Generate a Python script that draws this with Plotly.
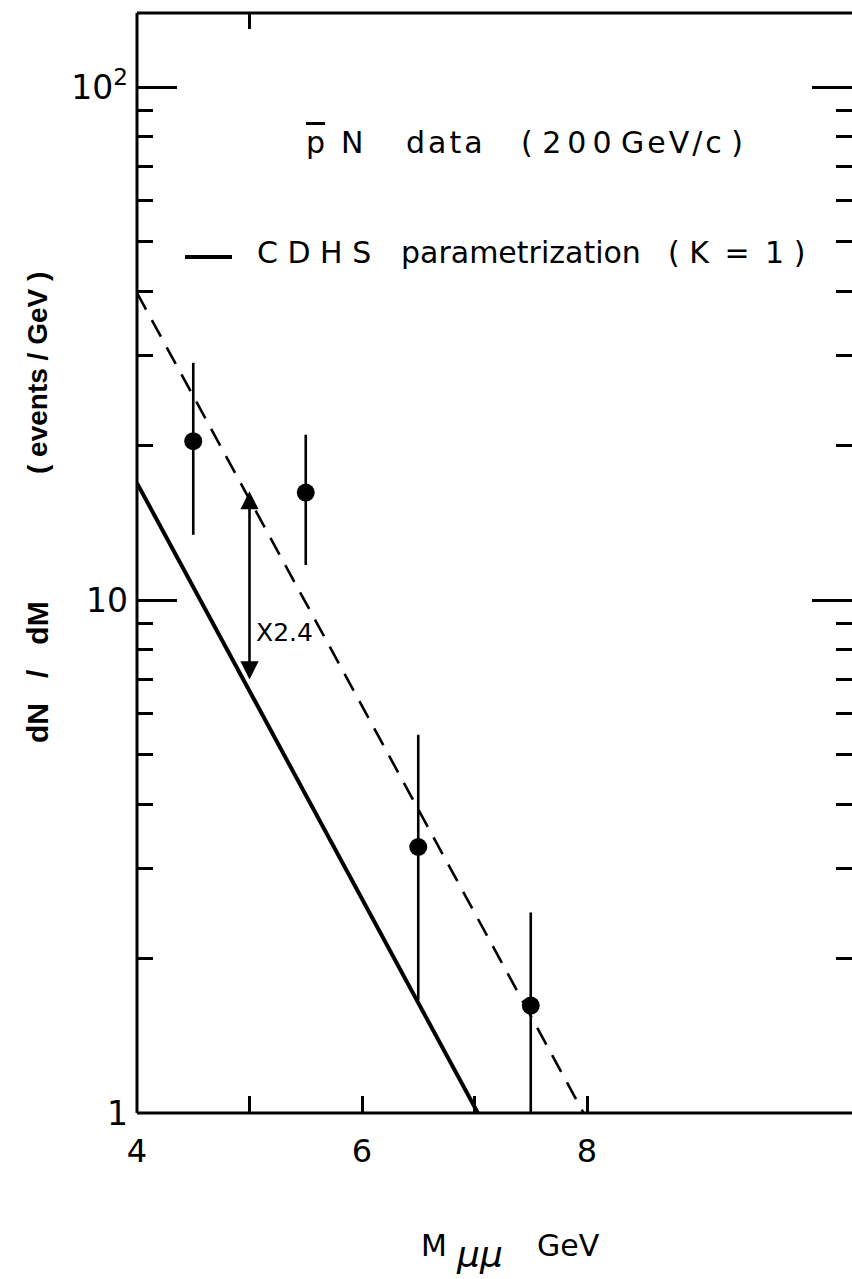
import math
import plotly.graph_objects as go

# ---------------- data ----------------
mass_gev = [4.5, 5.5, 6.5, 7.5]
dn_dm = [20.4, 16.2, 3.3, 1.62]
dn_dm_upper = [29.0, 21.0, 5.46, 2.46]
dn_dm_lower = [13.4, 11.7, 1.66, 0.9]

cdhs_mass = [4.0, 7.03]
cdhs_dn_dm = [16.9, 1.0]
scaled_mass = [4.0, 7.97]
scaled_dn_dm = [39.7, 1.0]

arrow_mass = 5.0
arrow_bottom = 6.95
arrow_top = 16.3
factor_label = "X2.4"

x_tickvals = [4, 5, 6, 7, 8]
x_ticktext = ["4", "", "6", "", "8"]
y_tickvals = [1, 10, 100]
y_ticktext = ["1", "10", "10<sup>2</sup>"]
y_minor_vals = [2, 3, 4, 5, 6, 7, 8, 9, 20, 30, 40, 50, 60, 70, 80, 90]

# ---------------- layout geometry ----------------
W, H = 852, 1279
ML, MT, MB, MR = 137, 13, 166, 0
PW, PH = W - ML - MR, H - MT - MB
PX_PER_GEV = 112.5
PX_PER_DECADE = 513.0


def px(xp):
    return (xp - ML) / PW


def py(yp):
    return (MT + PH - yp) / PH


FONT = "DejaVu Sans"
HS = "\u200a"
TS = "\u2009"
NB = "\u00a0"


def spaced(s, sep=HS):
    return sep.join(list(s))


fig = go.Figure()

fig.add_trace(go.Scatter(
    x=scaled_mass, y=scaled_dn_dm, mode="lines",
    line=dict(color="black", width=2.6, dash="19px,12px"), hoverinfo="skip"))
fig.add_trace(go.Scatter(
    x=cdhs_mass, y=cdhs_dn_dm, mode="lines",
    line=dict(color="black", width=4), hoverinfo="skip"))
fig.add_trace(go.Scatter(
    x=mass_gev, y=dn_dm, mode="markers",
    marker=dict(size=18, color="black"),
    error_y=dict(type="data", symmetric=False,
                 array=[u - v for u, v in zip(dn_dm_upper, dn_dm)],
                 arrayminus=[v - l for v, l in zip(dn_dm, dn_dm_lower)],
                 thickness=2.6, width=0, color="black")))

fig.update_layout(
    width=W, height=H,
    margin=dict(l=ML, r=MR, t=MT, b=MB, pad=0),
    paper_bgcolor="white", plot_bgcolor="white",
    showlegend=False,
    font=dict(family=FONT, color="black", size=29),
)

fig.update_xaxes(
    range=[4, 4 + PW / PX_PER_GEV],
    showline=False, showgrid=False, zeroline=False,
    ticks="inside", ticklen=17, tickwidth=3, tickcolor="black",
    tickvals=x_tickvals, ticktext=x_ticktext,
    tickfont=dict(family=FONT, size=32, color="black"),
    ticklabelstandoff=16,
)
fig.update_yaxes(
    type="log", range=[0, PH / PX_PER_DECADE],
    showline=False, showgrid=False, zeroline=False,
    ticks="inside", ticklen=40, tickwidth=3, tickcolor="black",
    mirror="ticks",
    tickvals=y_tickvals, ticktext=y_ticktext,
    tickfont=dict(family=FONT, size=33, color="black"),
    ticklabelstandoff=8,
    minor=dict(tickvals=y_minor_vals, ticks="inside", ticklen=16,
               tickwidth=3, tickcolor="black"),
)

# frame lines (left, bottom, top); the right edge lies outside the picture
shapes = [
    dict(type="line", xref="paper", yref="paper", x0=0, x1=0, y0=0, y1=1,
         line=dict(color="black", width=3)),
    dict(type="line", xref="paper", yref="paper", x0=0, x1=1, y0=0, y1=0,
         line=dict(color="black", width=3)),
    dict(type="line", xref="paper", yref="paper", x0=0, x1=1, y0=1, y1=1,
         line=dict(color="black", width=3)),
    # single top tick at M = 5
    dict(type="line", xref="x", yref="paper", x0=x_tickvals[1], x1=x_tickvals[1],
         y0=1, y1=1 - 16 / PH, line=dict(color="black", width=3)),
    # legend key
    dict(type="line", xref="paper", yref="paper", x0=px(185), x1=px(232),
         y0=py(257), y1=py(257), line=dict(color="black", width=4)),
]
fig.update_layout(shapes=shapes)

ann = []


def text(t, xc, yc, size=29, anchor="center", family=FONT, **kw):
    ann.append(dict(text=t, xref="paper", yref="paper", x=px(xc), y=py(yc),
                    xanchor=anchor, yanchor="middle", showarrow=False,
                    font=dict(family=family, size=size, color="black", **kw)))


# header line
text("p", 315, 142, size=30, lineposition="over")
text("N", 352, 142, size=30)
text(spaced("data"), 444, 142, size=30)
text("(" + NB + spaced("200", TS) + NB + spaced("GeV/c", HS) + NB + ")", 632, 142, size=30)

# legend line
text("C" + NB + "D" + NB + "H" + NB + "S", 314, 252, size=30)
text("parametrization", 521, 252, size=30)
text("(" + NB + "K" + NB + TS + "=" + TS + NB + "1" + NB + ")", 736, 252, size=30)

# factor label
text(factor_label, 284, 632, size=25)

# y-axis title
ann.append(dict(text="(" + NB + "events" + NB + "/" + NB + "GeV" + NB + ")",
                xref="paper", yref="paper", x=px(37), y=py(373),
                xanchor="center", yanchor="middle", textangle=-90, showarrow=False,
                font=dict(family="Liberation Sans", size=28, color="black", weight="bold")))
ann.append(dict(text="dN" + NB * 3 + "/" + NB * 3 + "dM",
                xref="paper", yref="paper", x=px(37), y=py(672),
                xanchor="center", yanchor="middle", textangle=-90, showarrow=False,
                font=dict(family="Liberation Sans", size=30, color="black", weight="bold")))

# x-axis title
text("M", 434, 1245, size=30)
text("\u03bc" + "\u03bc", 479, 1254, size=36, style="italic")
text("GeV", 568, 1245, size=30)

# double-headed arrow showing the scale factor
ann.append(dict(x=arrow_mass, y=math.log10(arrow_top), ax=arrow_mass,
                ay=math.log10(arrow_bottom), xref="x", yref="y", axref="x", ayref="y",
                text="", showarrow=True, arrowhead=2, startarrowhead=2,
                arrowside="end+start", arrowsize=1.4, startarrowsize=1.4,
                arrowwidth=2.6, arrowcolor="black", standoff=0, startstandoff=0))

fig.update_layout(annotations=ann)

fig.write_html("out.html")
